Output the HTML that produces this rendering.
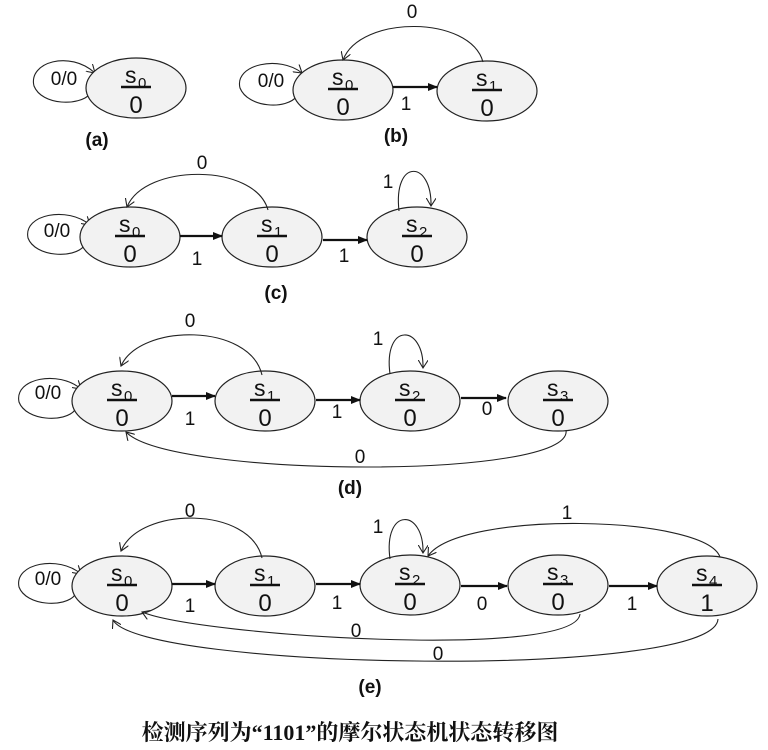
<!DOCTYPE html>
<html><head><meta charset="utf-8"><style>
body{margin:0;background:#fff}
svg{display:block}
text{font-family:"Liberation Sans",sans-serif;fill:#111}
.l{font-size:19px}
.b{font-size:19px;font-weight:bold}
.e{fill:#f2f2f2;stroke:#222;stroke-width:1.2}
.c{fill:none;stroke:#222;stroke-width:1.1}
.a{stroke:#111;stroke-width:2.2;fill:none}
</style></head><body>
<svg width="768" height="750" viewBox="0 0 768 750" xmlns="http://www.w3.org/2000/svg">
<defs>
<marker id="ah" markerWidth="10" markerHeight="8" refX="9" refY="4" orient="auto" markerUnits="userSpaceOnUse"><path d="M0,0 L10,4 L0,8 z" fill="#111"/></marker>
<marker id="oa" markerWidth="10" markerHeight="10" refX="8" refY="5" orient="auto" markerUnits="userSpaceOnUse"><path d="M0,0 L8,5 L0,10" fill="none" stroke="#222" stroke-width="1.1"/></marker>
<g id="n0"><ellipse class="e" cx="0" cy="0" rx="50" ry="30"/><line x1="-15" y1="-1" x2="15" y2="-1" stroke="#111" stroke-width="2.5"/></g>
</defs>

<!-- (a) -->
<path class="c" d="M90,94 C80,106 42,106 34,86 C28,62 70,50 95,73" marker-end="url(#oa)"/>
<text x="64" y="85" class="l" text-anchor="middle">0/0</text>
<use href="#n0" x="136" y="88"/>
<text x="125" y="83" font-size="23">s</text><text x="138" y="88" font-size="15">0</text>
<text x="136" y="113" font-size="24" text-anchor="middle">0</text>
<text x="97" y="146" class="b" text-anchor="middle">(a)</text>

<!-- (b) -->
<path class="c" d="M297,96 C287,110 248,108 240,88 C234,64 280,55 302,73" marker-end="url(#oa)"/>
<text x="271" y="87" class="l" text-anchor="middle">0/0</text>
<use href="#n0" x="343" y="90"/>
<text x="332" y="85" font-size="23">s</text><text x="345" y="90" font-size="15">0</text>
<text x="343" y="115" font-size="24" text-anchor="middle">0</text>
<use href="#n0" x="487" y="91"/>
<text x="476" y="86" font-size="23">s</text><text x="489" y="91" font-size="15">1</text>
<text x="487" y="116" font-size="24" text-anchor="middle">0</text>
<line class="a" x1="393" y1="87" x2="437" y2="87" marker-end="url(#ah)"/>
<text x="406" y="110" class="l" text-anchor="middle">1</text>
<path class="c" d="M483,62 C470,15 360,15 343,60" marker-end="url(#oa)"/>
<text x="412" y="18" class="l" text-anchor="middle">0</text>
<text x="396" y="142" class="b" text-anchor="middle">(b)</text>

<!-- (c) -->
<path class="c" d="M84,246 C74,259 35,257 28,238 C23,214 68,206 90,225" marker-end="url(#oa)"/>
<text x="57" y="237" class="l" text-anchor="middle">0/0</text>
<use href="#n0" x="130" y="237"/>
<text x="119" y="232" font-size="23">s</text><text x="132" y="237" font-size="15">0</text>
<text x="130" y="262" font-size="24" text-anchor="middle">0</text>
<use href="#n0" x="272" y="237"/>
<text x="261" y="232" font-size="23">s</text><text x="274" y="237" font-size="15">1</text>
<text x="272" y="262" font-size="24" text-anchor="middle">0</text>
<use href="#n0" x="417" y="237"/>
<text x="406" y="232" font-size="23">s</text><text x="419" y="237" font-size="15">2</text>
<text x="417" y="262" font-size="24" text-anchor="middle">0</text>
<line class="a" x1="180" y1="236" x2="222" y2="236" marker-end="url(#ah)"/>
<text x="197" y="265" class="l" text-anchor="middle">1</text>
<line class="a" x1="323" y1="240" x2="367" y2="240" marker-end="url(#ah)"/>
<text x="344" y="262" class="l" text-anchor="middle">1</text>
<path class="c" d="M268,210 C255,163 145,163 127,207" marker-end="url(#oa)"/>
<text x="202" y="169" class="l" text-anchor="middle">0</text>
<path class="c" d="M399,211 C393,158 432,160 431,206" marker-end="url(#oa)"/>
<text x="388" y="188" class="l" text-anchor="middle">1</text>
<text x="276" y="299" class="b" text-anchor="middle">(c)</text>

<!-- (d) -->
<path class="c" d="M75,410 C65,423 26,421 19,402 C14,378 59,370 81,389" marker-end="url(#oa)"/>
<text x="48" y="399" class="l" text-anchor="middle">0/0</text>
<use href="#n0" x="122" y="401"/>
<text x="111" y="396" font-size="23">s</text><text x="124" y="401" font-size="15">0</text>
<text x="122" y="426" font-size="24" text-anchor="middle">0</text>
<use href="#n0" x="265" y="401"/>
<text x="254" y="396" font-size="23">s</text><text x="267" y="401" font-size="15">1</text>
<text x="265" y="426" font-size="24" text-anchor="middle">0</text>
<use href="#n0" x="410" y="401"/>
<text x="399" y="396" font-size="23">s</text><text x="412" y="401" font-size="15">2</text>
<text x="410" y="426" font-size="24" text-anchor="middle">0</text>
<use href="#n0" x="558" y="401"/>
<text x="547" y="396" font-size="23">s</text><text x="560" y="401" font-size="15">3</text>
<text x="558" y="426" font-size="24" text-anchor="middle">0</text>
<line class="a" x1="172" y1="396" x2="215" y2="396" marker-end="url(#ah)"/>
<text x="190" y="425" class="l" text-anchor="middle">1</text>
<line class="a" x1="316" y1="400" x2="360" y2="400" marker-end="url(#ah)"/>
<text x="337" y="418" class="l" text-anchor="middle">1</text>
<line class="a" x1="461" y1="398" x2="506" y2="398" marker-end="url(#ah)"/>
<text x="487" y="415" class="l" text-anchor="middle">0</text>
<path class="c" d="M262,375 C250,323 140,323 121,366" marker-end="url(#oa)"/>
<text x="190" y="327" class="l" text-anchor="middle">0</text>
<path class="c" d="M390,374 C383,322 424,324 423,368" marker-end="url(#oa)"/>
<text x="378" y="345" class="l" text-anchor="middle">1</text>
<path class="c" d="M566,430 C575,480 170,478 126,432" marker-end="url(#oa)"/>
<text x="360" y="463" class="l" text-anchor="middle">0</text>
<text x="350" y="494" class="b" text-anchor="middle">(d)</text>

<!-- (e) -->
<path class="c" d="M75,595 C65,608 26,606 19,587 C14,563 59,555 81,574" marker-end="url(#oa)"/>
<text x="48" y="585" class="l" text-anchor="middle">0/0</text>
<use href="#n0" x="122" y="586"/>
<text x="111" y="581" font-size="23">s</text><text x="124" y="586" font-size="15">0</text>
<text x="122" y="611" font-size="24" text-anchor="middle">0</text>
<use href="#n0" x="265" y="586"/>
<text x="254" y="581" font-size="23">s</text><text x="267" y="586" font-size="15">1</text>
<text x="265" y="611" font-size="24" text-anchor="middle">0</text>
<use href="#n0" x="410" y="585"/>
<text x="399" y="580" font-size="23">s</text><text x="412" y="585" font-size="15">2</text>
<text x="410" y="610" font-size="24" text-anchor="middle">0</text>
<use href="#n0" x="558" y="585"/>
<text x="547" y="580" font-size="23">s</text><text x="560" y="585" font-size="15">3</text>
<text x="558" y="610" font-size="24" text-anchor="middle">0</text>
<use href="#n0" x="707" y="586"/>
<text x="696" y="581" font-size="23">s</text><text x="709" y="586" font-size="15">4</text>
<text x="707" y="611" font-size="24" text-anchor="middle">1</text>
<line class="a" x1="172" y1="584" x2="215" y2="584" marker-end="url(#ah)"/>
<text x="190" y="612" class="l" text-anchor="middle">1</text>
<line class="a" x1="316" y1="584" x2="360" y2="584" marker-end="url(#ah)"/>
<text x="337" y="609" class="l" text-anchor="middle">1</text>
<line class="a" x1="461" y1="586" x2="507" y2="586" marker-end="url(#ah)"/>
<text x="482" y="610" class="l" text-anchor="middle">0</text>
<line class="a" x1="609" y1="586" x2="657" y2="586" marker-end="url(#ah)"/>
<text x="632" y="610" class="l" text-anchor="middle">1</text>
<path class="c" d="M262,558 C250,506 140,506 121,551" marker-end="url(#oa)"/>
<text x="190" y="517" class="l" text-anchor="middle">0</text>
<path class="c" d="M390,559 C383,507 424,508 423,553" marker-end="url(#oa)"/>
<text x="378" y="533" class="l" text-anchor="middle">1</text>
<path class="c" d="M720,557 C705,515 460,510 428,556" marker-end="url(#oa)"/>
<text x="567" y="519" class="l" text-anchor="middle">1</text>
<path class="c" d="M580,614 C575,660 200,636 142,612" marker-end="url(#oa)"/>
<text x="356" y="637" class="l" text-anchor="middle">0</text>
<path class="c" d="M718,619 C715,680 140,670 113,620" marker-end="url(#oa)"/>
<text x="438" y="660" class="l" text-anchor="middle">0</text>
<text x="370" y="693" class="b" text-anchor="middle">(e)</text>

<text x="350" y="740" text-anchor="middle" style="font-family:'Liberation Serif','Noto Serif CJK SC',serif;font-size:22px;font-weight:bold">检测序列为“1101”的摩尔状态机状态转移图</text>
</svg>
</body></html>
